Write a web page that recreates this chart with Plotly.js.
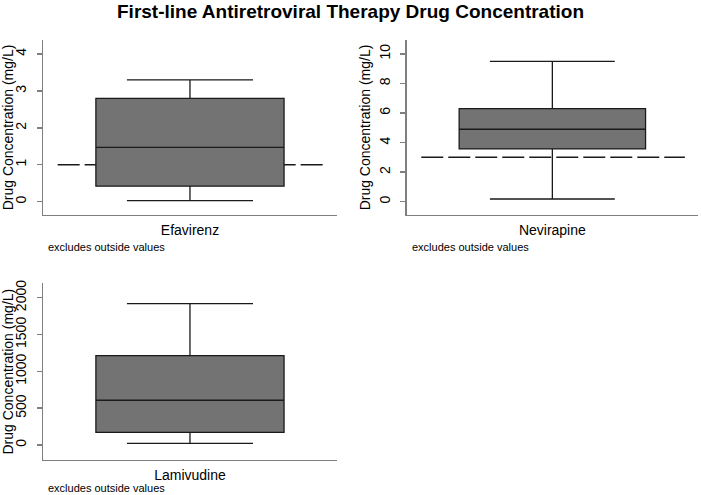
<!DOCTYPE html>
<html>
<head>
<meta charset="utf-8">
<script src="https://cdn.plot.ly/plotly-3.0.1.min.js"></script>
<style>html,body{margin:0;padding:0;background:#fff}#chart{width:701px;height:495px}</style>
</head>
<body>
<div id="chart"></div>
<script>
// Data
const drugs = ['Efavirenz', 'Nevirapine', 'Lamivudine'];
const lowerWhisker = [0.03, 0.18, 23];
const q1 = [0.42, 3.57, 172];
const medians = [1.47, 4.9, 607];
const q3 = [2.8, 6.29, 1212];
const upperWhisker = [3.3, 9.5, 1918];
const thresholds = [1, 3, null];
const yRanges = [[-0.36, 4.38], [-0.9, 10.94], [-204, 2195]];
const yTicks = [[0, 1, 2, 3, 4], [0, 2, 4, 6, 8, 10], [0, 500, 1000, 1500, 2000]];

const axisSuffix = ['', '2', '3'];
const xDomains = [[0.0613, 0.4807], [0.5802, 0.9957], [0.0613, 0.4807]];
const yDomains = [[0.5657, 0.9192], [0.5657, 0.9192], [0.0707, 0.4277]];
const noteY = [247, 247, 488];

const traces = drugs.map((d, i) => ({
  type: 'box',
  x: [d],
  q1: [q1[i]], median: [medians[i]], q3: [q3[i]],
  lowerfence: [lowerWhisker[i]], upperfence: [upperWhisker[i]],
  xaxis: 'x' + axisSuffix[i], yaxis: 'y' + axisSuffix[i],
  width: 0.64,
  whiskerwidth: 0.67,
  fillcolor: '#737373',
  line: {color: '#1a1a1a', width: 1.3},
  boxpoints: false,
  hoverinfo: 'skip',
  showlegend: false
}));

const layout = {
  width: 701, height: 495,
  margin: {l: 0, r: 0, t: 0, b: 0},
  paper_bgcolor: '#ffffff', plot_bgcolor: '#ffffff',
  font: {family: 'Liberation Sans, Arial, sans-serif', color: '#000', size: 14},
  title: {text: '<b>First-line Antiretroviral Therapy Drug Concentration</b>',
          x: 0.5, xanchor: 'center', y: 1 - 11 / 495, yanchor: 'middle',
          font: {size: 19, family: 'Liberation Sans, Arial, sans-serif', color: '#000'}},
  shapes: [],
  annotations: []
};

drugs.forEach((d, i) => {
  const s = axisSuffix[i];
  layout['xaxis' + s] = {
    domain: xDomains[i], anchor: 'y' + s,
    type: 'category', range: [-0.5, 0.5],
    showline: true, linecolor: '#7f7f7f', linewidth: 1.3,
    ticks: '', showgrid: false, zeroline: false, fixedrange: true,
    tickfont: {size: 14}, ticklabelstandoff: 2
  };
  layout['yaxis' + s] = {
    domain: yDomains[i], anchor: 'x' + s,
    range: yRanges[i], tickvals: yTicks[i],
    showline: true, linecolor: '#7f7f7f', linewidth: 1.3,
    ticks: 'outside', ticklen: 5, tickcolor: '#7f7f7f', tickwidth: 1.3,
    tickangle: -90, tickfont: {size: 14}, ticklabelstandoff: 5,
    showgrid: false, zeroline: false, fixedrange: true,
    title: {text: 'Drug Concentration (mg/L)', font: {size: 14}, standoff: 3}
  };
  if (thresholds[i] !== null) {
    layout.shapes.push({
      type: 'line', xref: 'x' + s, yref: 'y' + s, layer: 'below',
      x0: -0.45, x1: 0.455, y0: thresholds[i], y1: thresholds[i],
      line: {color: '#1a1a1a', width: 1.5, dash: '22px,5px'}
    });
  }
  layout.annotations.push({
    text: 'excludes outside values', showarrow: false,
    xref: 'paper', yref: 'paper',
    x: xDomains[i][0] + 3 / 701, xanchor: 'left',
    y: 1 - noteY[i] / 495, yanchor: 'middle',
    font: {size: 11, color: '#000'}
  });
});

Plotly.newPlot('chart', traces, layout, {displayModeBar: false, staticPlot: true});
</script>
</body>
</html>
